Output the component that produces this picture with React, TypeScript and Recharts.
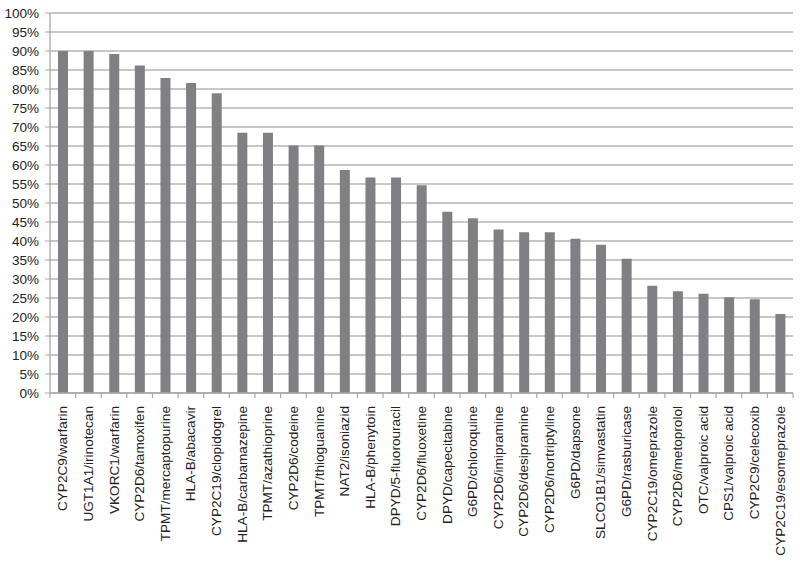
import { BarChart, Bar, XAxis, YAxis, CartesianGrid } from 'recharts';

const pairs = [
  'CYP2C9/warfarin',
  'UGT1A1/irinotecan',
  'VKORC1/warfarin',
  'CYP2D6/tamoxifen',
  'TPMT/mercaptopurine',
  'HLA-B/abacavir',
  'CYP2C19/clopidogrel',
  'HLA-B/carbamazepine',
  'TPMT/azathioprine',
  'CYP2D6/codeine',
  'TPMT/thioguanine',
  'NAT2/isoniazid',
  'HLA-B/phenytoin',
  'DPYD/5-fluorouracil',
  'CYP2D6/fluoxetine',
  'DPYD/capecitabine',
  'G6PD/chloroquine',
  'CYP2D6/imipramine',
  'CYP2D6/desipramine',
  'CYP2D6/nortriptyline',
  'G6PD/dapsone',
  'SLCO1B1/simvastatin',
  'G6PD/rasburicase',
  'CYP2C19/omeprazole',
  'CYP2D6/metoprolol',
  'OTC/valproic acid',
  'CPS1/valproic acid',
  'CYP2C9/celecoxib',
  'CYP2C19/esomeprazole',
];

const percents = [
  90, 90, 89.2, 86.2, 82.9, 81.6, 78.9, 68.5, 68.5, 65.1, 65.1, 58.7, 56.7, 56.7,
  54.7, 47.7, 46.0, 43.0, 42.3, 42.3, 40.6, 39.0, 35.3, 28.2, 26.8, 26.1, 25.2, 24.7, 20.8,
];

const yTicks = [0, 5, 10, 15, 20, 25, 30, 35, 40, 45, 50, 55, 60, 65, 70, 75, 80, 85, 90, 95, 100];

const data = pairs.map((name, i) => ({ name, value: percents[i] }));

const W = 800;
const H = 562;
const LEFT = 50;
const RIGHT = 7;
const step = (W - LEFT - RIGHT) / pairs.length;

const CategoryTick = ({ x, y, payload, index }: any) => {
  const last = index === pairs.length - 1;
  return (
    <g>
      <line x1={x - step / 2} y1={y - 8} x2={x - step / 2} y2={y - 3} stroke="#a8a8a8" strokeWidth={1.2} />
      {last && (
        <line x1={x + step / 2} y1={y - 8} x2={x + step / 2} y2={y - 3} stroke="#a8a8a8" strokeWidth={1.2} />
      )}
      <text
        x={x}
        y={y + 5}
        transform={`rotate(-90, ${x}, ${y + 5})`}
        textAnchor="end"
        dominantBaseline="central"
        fontSize={13.6}
        fill="#222"
      >
        {payload.value}
      </text>
    </g>
  );
};

export default function App() {
  return (
    <div style={{ width: W, height: H, background: '#fff', fontFamily: '"Liberation Sans", Arial, sans-serif' }}>
      <style>{'body{margin:0}'}</style>
      <BarChart width={W} height={H} data={data} margin={{ top: 13, right: RIGHT, left: 0, bottom: 0 }}>
        <CartesianGrid vertical={false} stroke="#b4b4b4" strokeWidth={1.3} />
        <XAxis
          dataKey="name"
          interval={0}
          height={169}
          tick={<CategoryTick />}
          tickLine={false}
          axisLine={{ stroke: '#a8a8a8', strokeWidth: 1.3 }}
        />
        <YAxis
          domain={[0, 100]}
          ticks={yTicks}
          width={LEFT}
          interval={0}
          tickFormatter={(v) => `${v}%`}
          tick={{ fontSize: 13.5, fill: '#222', dx: -4 }}
          tickSize={5}
          tickLine={{ stroke: '#a8a8a8' }}
          axisLine={{ stroke: '#a8a8a8', strokeWidth: 1.3 }}
        />
        <Bar dataKey="value" fill="#808084" barSize={10} isAnimationActive={false} />
      </BarChart>
    </div>
  );
}
